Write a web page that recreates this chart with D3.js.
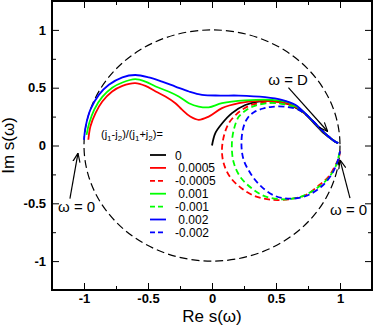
<!DOCTYPE html>
<html>
<head>
<meta charset="utf-8">
<script src="https://cdn.jsdelivr.net/npm/d3@7.9.0/dist/d3.min.js"></script>
<style>
  body { margin: 0; background: #fff; }
  svg { display: block; font-family: "Liberation Sans", Arial, sans-serif; }
</style>
</head>
<body>
<svg id="chart" width="374" height="327"></svg>
<script>
// curves in the complex plane: [Re s, Im s]
const curveZero = [[0,0],[0.026,0.107],[0.078,0.19],[0.156,0.28],[0.26,0.35],[0.36,0.38],[0.47,0.385],[0.56,0.37],[0.65,0.33],[0.72,0.28],[0.8,0.19],[0.88,0.1],[0.96,0.035],[0.985,0.02]];

const redPos = [[-0.966,0.05],[-0.95,0.165],[-0.91,0.28],[-0.857,0.38],[-0.78,0.467],[-0.70,0.516],[-0.60,0.54],[-0.52,0.516],[-0.44,0.467],[-0.364,0.424],[-0.286,0.366],[-0.234,0.31],[-0.17,0.25],[-0.104,0.222],[-0.026,0.25],[0.078,0.323],[0.21,0.366],[0.363,0.386],[0.49,0.38],[0.62,0.352],[0.70,0.30],[0.753,0.25],[0.83,0.164],[0.91,0.078],[0.96,0.035],[0.975,0.028]];
const greenPos = [[-0.98,0.092],[-0.96,0.19],[-0.92,0.31],[-0.857,0.42],[-0.78,0.50],[-0.70,0.545],[-0.60,0.574],[-0.52,0.553],[-0.44,0.51],[-0.34,0.467],[-0.26,0.424],[-0.18,0.366],[-0.104,0.337],[-0.026,0.33],[0.078,0.366],[0.26,0.39],[0.47,0.395],[0.60,0.372],[0.70,0.305],[0.753,0.25],[0.83,0.164],[0.91,0.078],[0.96,0.035],[0.978,0.025]];
const bluePos = [[-1.0,0.05],[-0.987,0.164],[-0.95,0.31],[-0.884,0.438],[-0.806,0.525],[-0.70,0.59],[-0.60,0.61],[-0.494,0.59],[-0.39,0.553],[-0.286,0.51],[-0.18,0.467],[-0.078,0.438],[0.065,0.432],[0.21,0.432],[0.415,0.418],[0.545,0.395],[0.65,0.352],[0.753,0.25],[0.83,0.164],[0.91,0.078],[0.96,0.035],[0.987,0.02]];

const redNeg = [[0.985,0.02],[0.96,0.035],[0.91,0.078],[0.83,0.164],[0.753,0.25],[0.68,0.31],[0.62,0.345],[0.5,0.37],[0.40,0.37],[0.32,0.355],[0.25,0.32],[0.19,0.27],[0.13,0.19],[0.095,0.09],[0.078,-0.03],[0.09,-0.15],[0.14,-0.27],[0.23,-0.37],[0.34,-0.44],[0.47,-0.47],[0.60,-0.465],[0.73,-0.43],[0.83,-0.35],[0.91,-0.27],[0.96,-0.18],[0.99,-0.11],[1.0,-0.05]];
const greenNeg = [[0.985,0.02],[0.96,0.035],[0.91,0.078],[0.83,0.164],[0.753,0.25],[0.68,0.31],[0.62,0.34],[0.52,0.365],[0.42,0.365],[0.34,0.345],[0.28,0.315],[0.21,0.25],[0.17,0.135],[0.155,0.0],[0.17,-0.15],[0.22,-0.27],[0.31,-0.37],[0.415,-0.44],[0.545,-0.465],[0.675,-0.45],[0.805,-0.38],[0.91,-0.28],[0.97,-0.17],[0.99,-0.09],[1.0,-0.05]];
const blueNeg = [[0.985,0.02],[0.96,0.035],[0.91,0.078],[0.83,0.164],[0.753,0.25],[0.675,0.31],[0.57,0.335],[0.47,0.335],[0.40,0.32],[0.33,0.29],[0.28,0.24],[0.246,0.16],[0.23,0.02],[0.246,-0.12],[0.30,-0.24],[0.38,-0.35],[0.49,-0.435],[0.62,-0.46],[0.75,-0.43],[0.86,-0.35],[0.935,-0.25],[0.98,-0.14],[1.0,-0.05]];

const legendLabels = ["0", " 0.0005", "-0.0005", " 0.001", "-0.001", " 0.002", "-0.002"];
const majorTicks = [-1, -0.5, 0, 0.5, 1];
const minorTicks = [-1.25, -0.75, -0.25, 0.25, 0.75, 1.25];

const svg = d3.select("#chart");
const margin = {top: 1, right: 2, bottom: 37, left: 52};
const W = 374, H = 327;

const x = d3.scaleLinear().domain([-1.25, 1.25]).range([margin.left, W - margin.right]);
const y = d3.scaleLinear().domain([-1.25, 1.25]).range([H - margin.bottom, margin.top]);

const series = [
  {data: curveZero, color: "#000", dash: null},
  {data: redPos, color: "#ff0000", dash: null},
  {data: redNeg, color: "#ff0000", dash: "6,3.5"},
  {data: greenPos, color: "#00ff00", dash: null},
  {data: greenNeg, color: "#00ff00", dash: "6,3.5"},
  {data: bluePos, color: "#0000ff", dash: null},
  {data: blueNeg, color: "#0000ff", dash: "6,3.5"}
];

// axes, ticks pointing inward on all four sides
const fmt = d => d === 0 ? "0" : String(d);
function addAxis(axisFn, scale, tr, labels) {
  const major = axisFn(scale).tickValues(majorTicks).tickSize(-7).tickPadding(10)
    .tickFormat(labels ? fmt : "");
  const minor = axisFn(scale).tickValues(minorTicks).tickSize(-4).tickFormat("");
  const g1 = svg.append("g").attr("transform", tr).call(major);
  const g2 = svg.append("g").attr("transform", tr).call(minor);
  [g1, g2].forEach(g => g.select(".domain").remove());
  g1.selectAll("line").attr("stroke", "#000");
  g2.selectAll("line").attr("stroke", "#000");
  g1.selectAll("text").attr("font-size", 13).attr("font-weight", "bold")
    .attr("font-family", "'Liberation Sans', Arial, sans-serif").attr("fill", "#000");
  return g1;
}
const gx = addAxis(d3.axisBottom, x, `translate(0,${H - margin.bottom})`, true);
gx.selectAll("text").attr("dy", "0.71em").attr("y", 4);
const gy = addAxis(d3.axisLeft, y, `translate(${margin.left},0)`, true);
gy.selectAll("text").attr("x", -6);
addAxis(d3.axisTop, x, `translate(0,${margin.top})`, false);
addAxis(d3.axisRight, y, `translate(${W - margin.right},0)`, false);

// unit circle
svg.append("ellipse")
  .attr("cx", x(0)).attr("cy", y(0))
  .attr("rx", x(1) - x(0)).attr("ry", y(0) - y(1))
  .attr("fill", "none").attr("stroke", "#000").attr("stroke-width", 1.2)
  .attr("stroke-dasharray", "8,4");

const line = d3.line().x(d => x(d[0])).y(d => y(d[1])).curve(d3.curveCatmullRom.alpha(0.5));
series.forEach(s => {
  svg.append("path").attr("d", line(s.data))
    .attr("fill", "none").attr("stroke", s.color).attr("stroke-width", 1.8)
    .attr("stroke-dasharray", s.dash);
});

// frame
svg.append("rect")
  .attr("x", margin.left).attr("y", margin.top)
  .attr("width", W - margin.left - margin.right).attr("height", H - margin.top - margin.bottom)
  .attr("fill", "none").attr("stroke", "#000").attr("stroke-width", 2);

// annotations
svg.append("defs").append("marker")
  .attr("id", "arr").attr("viewBox", "0 0 10 10").attr("refX", 10).attr("refY", 5)
  .attr("markerWidth", 9).attr("markerHeight", 9).attr("markerUnits", "userSpaceOnUse")
  .attr("orient", "auto")
  .append("path").attr("d", "M0,1 L10,5 L0,9").attr("fill", "none").attr("stroke", "#000").attr("stroke-width", 1.3);

const notes = [
  {text: "\u03c9 = D", at: [0.44, 0.525], from: [0.597, 0.50], to: [0.904, 0.121]},
  {text: "\u03c9 = 0", at: [-1.203, -0.573], from: [-1.11, -0.46], to: [-1.047, -0.066]},
  {text: "\u03c9 = 0", at: [0.922, -0.60], from: [1.078, -0.455], to: [1.0, -0.124]}
];
notes.forEach(n => {
  svg.append("line")
    .attr("x1", x(n.from[0])).attr("y1", y(n.from[1]))
    .attr("x2", x(n.to[0])).attr("y2", y(n.to[1]))
    .attr("stroke", "#000").attr("stroke-width", 1.2).attr("marker-end", "url(#arr)");
  svg.append("text").attr("x", x(n.at[0])).attr("y", y(n.at[1]))
    .attr("font-size", 15).text(n.text);
});

// legend
const header = svg.append("text").attr("x", 101).attr("y", 138).attr("font-size", 11);
[["(j",""],["1","s"],["-j",""],["2","s"],[")/(j",""],["1","s"],["+j",""],["2","s"],[")=",""]]
  .forEach(([t, k]) => {
    const ts = header.append("tspan").text(t);
    if (k) ts.attr("font-size", 8).attr("dy", 3);
    else if (t !== "(j") ts.attr("dy", -3);
  });

const leg = svg.append("g");
series.forEach((s, i) => {
  const yy = 155 + i * 12.9;
  leg.append("line").attr("x1", 150).attr("x2", 166).attr("y1", yy).attr("y2", yy)
    .attr("stroke", s.color).attr("stroke-width", 1.8).attr("stroke-dasharray", s.dash ? "5,3" : null);
  leg.append("text").attr("x", 175).attr("y", yy + 4.5).attr("font-size", 12)
    .attr("xml:space", "preserve").text(legendLabels[i]);
});

// axis titles
svg.append("text").attr("x", x(0)).attr("y", 322).attr("text-anchor", "middle")
  .attr("font-size", 17).text("Re s(\u03c9)");
svg.append("text").attr("transform", `translate(14,${y(0)}) rotate(-90)`)
  .attr("text-anchor", "middle").attr("font-size", 17).text("Im s(\u03c9)");
</script>
</body>
</html>
